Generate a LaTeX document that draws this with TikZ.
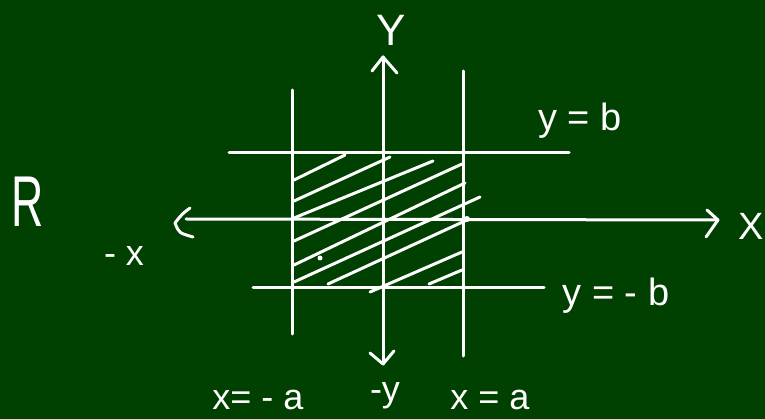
\documentclass[tikz,border=0pt]{standalone}
\usepackage{fontspec}
\setmainfont{Liberation Sans}
\definecolor{board}{RGB}{0,64,0}
\begin{document}
\begin{tikzpicture}[x=1pt,y=-1pt,
  chalk/.style={white,line width=3pt,line cap=round,line join=round},
  lbl/.style={text=white,inner sep=0pt,font=\fontsize{#1}{#1}\selectfont},
  lbl/.default=40]
\fill[board] (0,0) rectangle (765,419);
\useasboundingbox (0,0) rectangle (765,419);
% axes
\coordinate (ytop) at (383,57);
\coordinate (ybot) at (383,364);
\coordinate (xleft) at (175,223);
\coordinate (xright) at (718,220);
\draw[chalk] (ybot) -- (ytop);
\draw[chalk] ([shift={(-11,14)}]ytop) -- (ytop) -- ([shift={(14,16)}]ytop);
\draw[chalk] ([shift={(-13,-11)}]ybot) -- (ybot) -- ([shift={(11,-13)}]ybot);
\draw[chalk] (186,219) -- (xright);
\draw[chalk] ([shift={(-11,-10)}]xright) -- (xright) -- ([shift={(-12,17)}]xright);
\draw[chalk] (190,208) .. controls (182,214) .. (xleft) .. controls (179,233) .. (193,237);
% boundary lines
\coordinate (xa1) at (463,71);  \coordinate (xa2) at (463,356);
\coordinate (xm1) at (292,90);  \coordinate (xm2) at (292,334);
\coordinate (yb1) at (229,153); \coordinate (yb2) at (569,153);
\coordinate (ym1) at (253,288); \coordinate (ym2) at (544,288);
\draw[chalk] (xa1) -- (xa2);
\draw[chalk] (xm1) -- (xm2);
\draw[chalk] (yb1) -- (yb2);
\draw[chalk] (ym1) -- (ym2);
% hatching
\foreach \a/\b/\c/\d in {294/180/345/155, 294/201/390/157, 294/218/433/161,
  294/241/462/164, 294/265/465/183, 294/282/480/197, 328/284/467/220,
  370/292/462/252, 429/284/462/270}
  \draw[chalk] (\a,\b) -- (\c,\d);
\fill[white] (320,258) circle (2.5);
\fill[white] (467,219) circle (3);
% labels
\node[lbl=44] (Ylab) at (391,30) {Y};
\node[lbl=38] (Xlab) [anchor=east] at (764,226) {X};
\node[lbl=72,xscale=0.62] (Rlab) at (28,202) {R};
\node[lbl=36] (mxlab) at (124,256) {- x};
\node[lbl=38] (yblab) at (580,121) {y = b};
\node[lbl=38] (ymblab) at (616,296) {y = - b};
\node[lbl=36] (xmalab) at (258,400) {x= - a};
\node[lbl=36] (mylab) at (385,396) {-y};
\node[lbl=36] (xalab) at (490,400) {x = a};
\end{tikzpicture}
\end{document}
